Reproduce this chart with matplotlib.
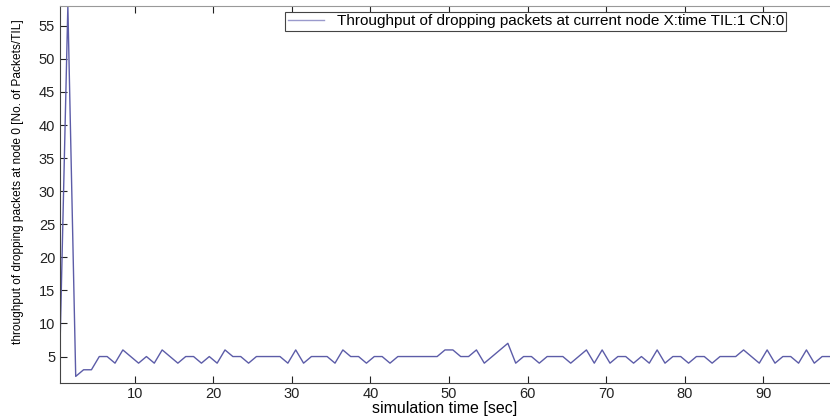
import numpy as np
import matplotlib
matplotlib.use('Agg')
import matplotlib.pyplot as plt

plt.rcParams['font.family'] = ['Liberation Sans', 'DejaVu Sans']

# simulation time [sec] (samples every second, offset half a second)
time = np.arange(0.5, 99.0, 1.0)

# dropped packets per TIL at node 0
drops = [6.5, 58, 2, 3, 3, 5, 5, 4, 6, 5,
         4, 5, 4, 6, 5, 4, 5, 5, 4, 5,
         4, 6, 5, 5, 4, 5, 5, 5, 5, 4,
         6, 4, 5, 5, 5, 4, 6, 5, 5, 4,
         5, 5, 4, 5, 5, 5, 5, 5, 5, 6,
         6, 5, 5, 6, 4, 5, 6, 7, 4, 5,
         5, 4, 5, 5, 5, 4, 5, 6, 4, 6,
         4, 5, 5, 4, 5, 4, 6, 4, 5, 5,
         4, 5, 5, 4, 5, 5, 5, 6, 5, 4,
         6, 4, 5, 5, 4, 6, 4, 5, 5]

xticks = [10, 20, 30, 40, 50, 60, 70, 80, 90]
yticks = [5, 10, 15, 20, 25, 30, 35, 40, 45, 50, 55]

fig = plt.figure(figsize=(8.3, 4.16), dpi=100)
ax = fig.add_axes([60 / 830, 1 - 383 / 416, 770 / 830, 377 / 416])

ax.plot(time, drops, color='#5c5ca8', lw=1.0,
        label='Throughput of dropping packets at current node X:time TIL:1 CN:0')

ax.set_xlim(0.5, 98.5)
ax.set_ylim(1, 58)
ax.set_xticks(xticks)
ax.set_yticks(yticks)
ax.tick_params(direction='in', length=5, top=True, labelsize=10.5, colors='#222222')
ax.tick_params(axis='x', pad=3)

for side in ['left', 'bottom']:
    ax.spines[side].set_color('#444444')
ax.spines['top'].set_color('#999999')
ax.spines['right'].set_visible(False)

ax.set_xlabel('simulation time [sec]', fontsize=11.5, labelpad=0)
ax.set_ylabel('throughput of dropping packets at node 0 [No. of Packets/TIL]',
              fontsize=8.6)
ax.yaxis.set_label_coords(-0.047, 0.535)

leg = ax.legend(loc='upper right', bbox_to_anchor=(0.943, 0.984), borderaxespad=0,
                fontsize=11, fancybox=False, framealpha=1, handlelength=2.4,
                borderpad=0.15, handletextpad=0.8)
leg.get_frame().set_edgecolor('#444444')
leg.get_frame().set_linewidth(0.8)
leg.get_lines()[0].set_color('#9a9acc')

fig.savefig('out.png', dpi=100)
